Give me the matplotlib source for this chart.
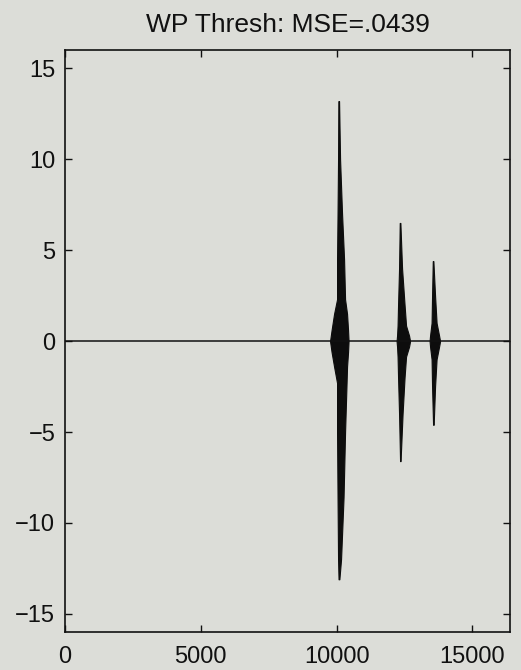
import numpy as np
import matplotlib
matplotlib.use('Agg')
import matplotlib.pyplot as plt

# Signal length and zero baseline
N_SAMPLES = 16384

# Envelope of each burst: y level, left edge, right edge (samples)
burst1_y = [13.2, 10.0, 7.0, 4.5, 2.3, 1.5, 0.6, 0.0, -0.6, -1.4, -2.3, -5.0, -8.6, -12.0, -13.1]
burst1_left = [10063, 10052, 10033, 10015, 10015, 9905, 9813, 9757, 9813, 9905, 10015, 10015, 10033, 10052, 10070]
burst1_right = [10089, 10126, 10199, 10273, 10310, 10383, 10420, 10439, 10420, 10383, 10365, 10310, 10254, 10162, 10100]

burst2_y = [6.5, 4.0, 2.0, 0.85, 0.3, 0.0, -0.3, -0.85, -2.0, -4.0, -6.6]
burst2_left = [12323, 12298, 12261, 12243, 12224, 12206, 12224, 12243, 12261, 12298, 12335]
burst2_right = [12346, 12408, 12500, 12555, 12666, 12703, 12666, 12555, 12500, 12427, 12353]

burst3_y = [4.4, 2.5, 1.0, 0.3, 0.0, -0.3, -1.0, -2.5, -4.6]
burst3_left = [13539, 13513, 13495, 13439, 13421, 13439, 13495, 13513, 13550]
burst3_right = [13561, 13623, 13679, 13771, 13808, 13771, 13679, 13623, 13572]

x_ticks = [0, 5000, 10000, 15000]
y_ticks = [-15, -10, -5, 0, 5, 10, 15]
title = 'WP Thresh: MSE=.0439'

BG = '#dcddd8'
plt.rcParams['font.family'] = ['Liberation Sans', 'DejaVu Sans']

fig = plt.figure(figsize=(5.21, 6.70), dpi=100, facecolor=BG)
ax = fig.add_axes([0.1248, 0.0567, 0.979 - 0.1248, 0.925 - 0.0567])
ax.set_facecolor(BG)

# baseline
ax.plot([0, N_SAMPLES], [0, 0], color='#111111', lw=1.1)

for ys, left, right in [(burst1_y, burst1_left, burst1_right),
                        (burst2_y, burst2_left, burst2_right),
                        (burst3_y, burst3_left, burst3_right)]:
    ax.fill_betweenx(ys, left, right, color='#0d0d0d', edgecolor='#0d0d0d', lw=0.8)

ax.set_xlim(0, N_SAMPLES)
ax.set_ylim(-16, 16)
ax.set_xticks(x_ticks)
ax.set_yticks(y_ticks)
ax.set_xticklabels([str(t) for t in x_ticks])
ax.set_yticklabels([str(t).replace('-', '\u2212') for t in y_ticks])
ax.tick_params(direction='in', length=5, width=1, top=True, right=True,
               labelsize=17, colors='#111111')
ax.tick_params(axis='x', pad=10)
ax.tick_params(axis='y', pad=7)
for sp in ax.spines.values():
    sp.set_linewidth(1.2)
    sp.set_color('#111111')

ax.set_title(title, fontsize=19, color='#111111', pad=13)

fig.savefig('out.png', dpi=100, facecolor=BG)
